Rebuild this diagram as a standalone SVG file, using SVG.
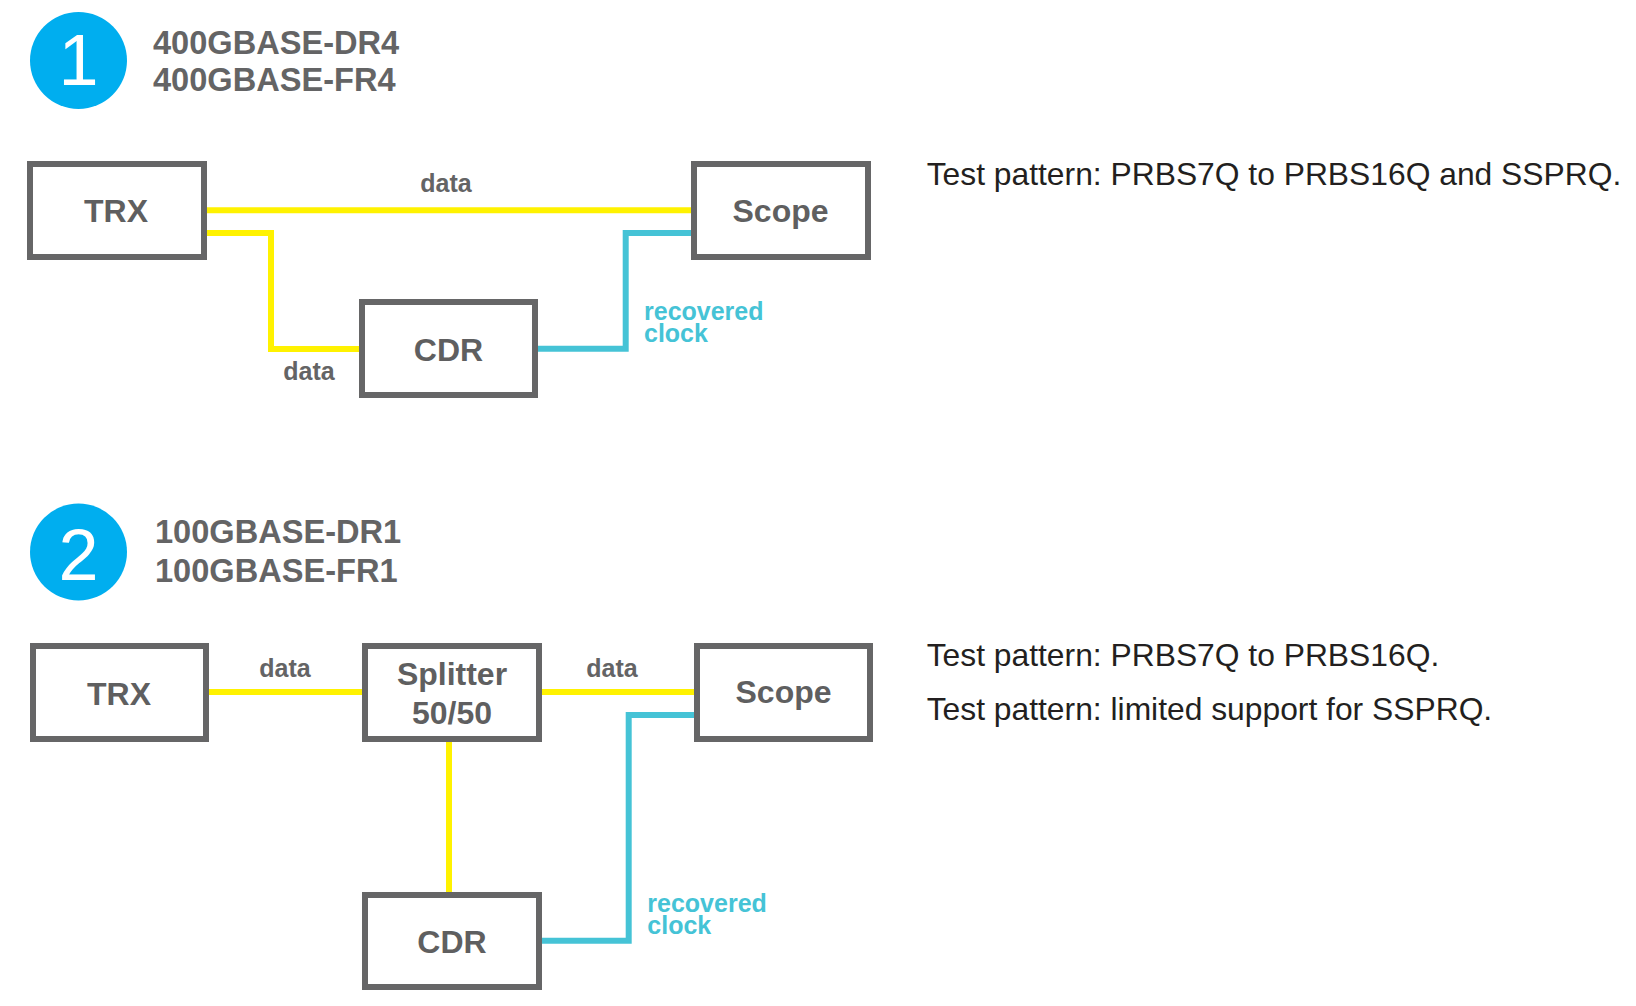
<svg xmlns="http://www.w3.org/2000/svg" width="1636" height="1006" viewBox="0 0 1636 1006">
<style>
.box{fill:#fff;stroke:#666667;stroke-width:6}
.bt{font-family:"Liberation Sans",Arial,sans-serif;font-weight:bold;font-size:32px;fill:#5f5f60;text-anchor:middle}
.hd{font-family:"Liberation Sans",Arial,sans-serif;font-weight:bold;font-size:32.6px;fill:#646465}
.lb{font-family:"Liberation Sans",Arial,sans-serif;font-weight:bold;font-size:25px;fill:#646465;text-anchor:middle}
.rc{font-family:"Liberation Sans",Arial,sans-serif;font-weight:bold;font-size:25px;fill:#45c3d6}
.tp{font-family:"Liberation Sans",Arial,sans-serif;font-size:31.8px;fill:#231f20}
.num{font-family:"Liberation Sans",Arial,sans-serif;font-size:72px;fill:#fff;text-anchor:middle}
.y{fill:none;stroke:#fff200;stroke-width:6}
.c{fill:none;stroke:#45c3d6;stroke-width:6}
</style>
<rect width="1636" height="1006" fill="#fff"/>
<g id="connectors">
<path class="y" d="M207 210.3H691"/>
<path class="y" d="M207 233H271V349H359"/>
<path class="c" d="M538 348.7H625.7V233H691"/>
<path class="y" d="M209 692H365"/>
<path class="y" d="M539 692H697"/>
<path class="y" d="M449 742V895"/>
<path class="c" d="M539 940.7H628.7V715H697"/>
</g>
<g id="header1">
<circle cx="78.5" cy="60.5" r="48.5" fill="#00aeef"/>
<text class="num" x="78.5" y="85">1</text>
<text class="hd" x="153" y="54.3">400GBASE-DR4</text>
<text class="hd" x="153" y="91">400GBASE-FR4</text>
</g>
<g id="trx1"><rect class="box" x="30" y="164" width="174" height="93"/><text class="bt" x="116" y="222">TRX</text></g>
<g id="scope1"><rect class="box" x="694" y="164" width="174" height="93"/><text class="bt" x="780.5" y="222.3">Scope</text></g>
<g id="cdr1"><rect class="box" x="362" y="302" width="173" height="93"/><text class="bt" x="448.5" y="360.7">CDR</text></g>
<g id="labels1">
<text class="lb" x="446" y="192.3">data</text>
<text class="lb" x="309" y="380">data</text>
<text class="rc" x="644" y="319.5">recovered</text>
<text class="rc" x="644" y="341.5">clock</text>
<text class="tp" x="926.7" y="185">Test pattern: PRBS7Q to PRBS16Q and SSPRQ.</text>
</g>
<g id="header2">
<circle cx="78.5" cy="552" r="48.5" fill="#00aeef"/>
<text class="num" x="78.5" y="580">2</text>
<text class="hd" x="155" y="543">100GBASE-DR1</text>
<text class="hd" x="155" y="581.7">100GBASE-FR1</text>
</g>
<g id="trx2"><rect class="box" x="33" y="646" width="173" height="93"/><text class="bt" x="119" y="705">TRX</text></g>
<g id="splitter2"><rect class="box" x="365" y="646" width="174" height="93"/><text class="bt" x="452" y="685">Splitter</text><text class="bt" x="452" y="724">50/50</text></g>
<g id="scope2"><rect class="box" x="697" y="646" width="173" height="93"/><text class="bt" x="783.5" y="703.3">Scope</text></g>
<g id="cdr2"><rect class="box" x="365" y="895" width="174" height="92"/><text class="bt" x="452" y="952.7">CDR</text></g>
<g id="labels2">
<text class="lb" x="285" y="677.3">data</text>
<text class="lb" x="612" y="677.3">data</text>
<text class="rc" x="647.3" y="912.2">recovered</text>
<text class="rc" x="647.3" y="934.2">clock</text>
<text class="tp" x="926.7" y="666">Test pattern: PRBS7Q to PRBS16Q.</text>
<text class="tp" x="926.7" y="720">Test pattern: limited support for SSPRQ.</text>
</g>
</svg>
